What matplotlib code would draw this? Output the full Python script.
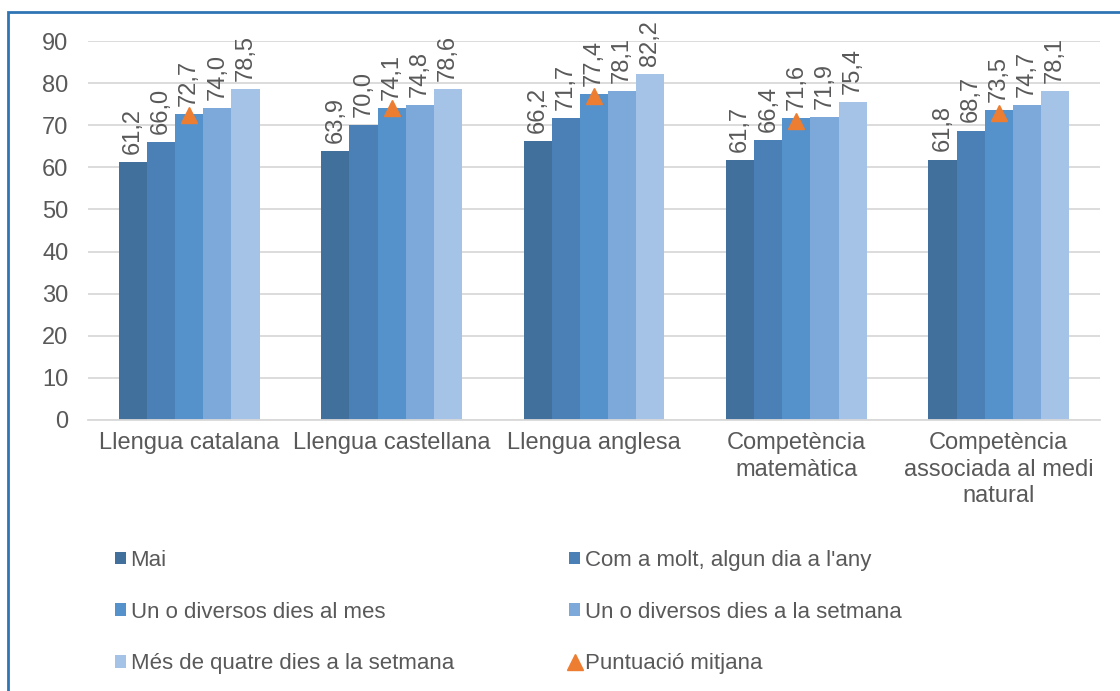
"""
Puntuació per freqüència de lectura - gràfic de barres agrupades
"""
import matplotlib
matplotlib.use('Agg')
import matplotlib.pyplot as plt
from matplotlib.patches import Rectangle, Patch
from matplotlib.lines import Line2D
import numpy as np

plt.rcParams['font.family'] = ['Liberation Sans', 'DejaVu Sans']

# ============================================================
# 1. Dades
# ============================================================
categories = ['Llengua catalana', 'Llengua castellana', 'Llengua anglesa',
              'Competència\nmatemàtica', 'Competència\nassociada al medi\nnatural']
series_names = ['Mai', "Com a molt, algun dia a l'any", 'Un o diversos dies al mes',
                'Un o diversos dies a la setmana', 'Més de quatre dies a la setmana']
mai = [61.2, 63.9, 66.2, 61.7, 61.8]
algun_dia_any = [66.0, 70.0, 71.7, 66.4, 68.7]
dies_mes = [72.7, 74.1, 77.4, 71.6, 73.5]
dies_setmana = [74.0, 74.8, 78.1, 71.9, 74.7]
mes_quatre = [78.5, 78.6, 82.2, 75.4, 78.1]
mitjana = [72.5, 74.0, 77.0, 71.1, 72.9]

series = [mai, algun_dia_any, dies_mes, dies_setmana, mes_quatre]
colors = ['#41709C', '#4A80B6', '#5592CC', '#7CA9D9', '#A5C3E6']
orange = '#ED7D31'
text_col = '#595959'

# ============================================================
# 2. Gràfic
# ============================================================
fig = plt.figure(figsize=(11.2, 6.91), dpi=100)
ax = fig.add_axes([88 / 1120, 1 - 420 / 691, 1012 / 1120, 379 / 691])

x = np.arange(len(categories))
w = 0.139
for i, (vals, col) in enumerate(zip(series, colors)):
    pos = x + (i - 2) * w
    ax.bar(pos, vals, width=w, color=col, zorder=2)
    for px, v in zip(pos, vals):
        ax.annotate(f'{v:.1f}'.replace('.', ','), (px, v), xytext=(0, 6),
                    textcoords='offset points', rotation=90, ha='center', va='bottom',
                    fontsize=17, color=text_col, zorder=4)

ax.plot(x, mitjana, linestyle='none', marker='^', markersize=12,
        color=orange, zorder=3)

ax.set_xlim(-0.5, len(categories) - 0.5)
ax.set_ylim(0, 90)
ax.set_yticks(range(0, 91, 10))
ax.set_xticks(x)
ax.set_xticklabels(categories, fontsize=17, color=text_col, linespacing=1.25)
ax.tick_params(axis='y', labelsize=17, labelcolor=text_col, length=0, pad=14)
ax.tick_params(axis='x', length=0, pad=9)
ax.grid(axis='y', color='#D9D9D9', linewidth=1.3, zorder=0)
ax.set_axisbelow(True)
for s in ['top', 'right', 'left']:
    ax.spines[s].set_visible(False)
ax.spines['bottom'].set_color('#D9D9D9')
ax.spines['bottom'].set_linewidth(1.3)

# llegenda (ordre per columnes)
patches = [Patch(facecolor=c, edgecolor='none') for c in colors]
tri = Line2D([], [], linestyle='none', marker='^', markersize=11, color=orange)
handles = [patches[0], patches[2], patches[4], patches[1], patches[3], tri]
labels = [series_names[0], series_names[2], series_names[4],
          series_names[1], series_names[3], 'Puntuació mitjana']
fig.legend(handles, labels, loc='upper left', bbox_to_anchor=(95 / 1120, 1 - 530 / 691),
           ncol=2, frameon=False, fontsize=16, labelcolor=text_col,
           handlelength=0.5, handleheight=0.5, handletextpad=0.2,
           columnspacing=5.2, labelspacing=1.38)

# vora del gràfic
fig.add_artist(Rectangle((8 / 1120, -0.1), 1.2, 1.1 - 12 / 691, transform=fig.transFigure,
                         fill=False, edgecolor='#2F75B5', linewidth=2))

plt.savefig('out.png', dpi=100)
plt.close()
